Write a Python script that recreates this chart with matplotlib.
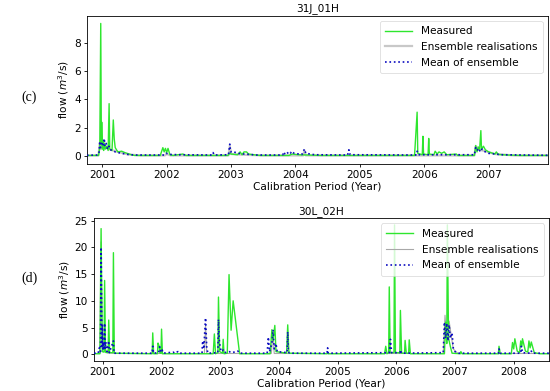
import matplotlib
matplotlib.use('Agg')
import matplotlib.pyplot as plt

# time axis is in decimal years
# ---- 31J_01H (panel c) ----
c_meas_x = [2000.76, 2000.94, 2000.96, 2000.975, 2000.985, 2000.99, 2001.0, 2001.01, 2001.02, 2001.03,
            2001.05, 2001.07, 2001.09, 2001.105, 2001.115, 2001.15, 2001.17, 2001.185, 2001.2, 2001.24,
            2001.3, 2001.35, 2001.45, 2001.5, 2001.9, 2001.94, 2001.96, 2001.98, 2002.0, 2002.02,
            2002.05, 2002.1, 2002.25, 2002.3, 2002.95, 2002.98, 2003.0, 2003.1, 2003.14, 2003.17,
            2003.2, 2003.24, 2003.27, 2003.35, 2003.45, 2003.9, 2003.95, 2004.05, 2004.2, 2004.4,
            2005.85, 2005.89, 2005.9, 2005.97, 2005.98, 2005.99, 2006.06, 2006.07, 2006.08, 2006.15,
            2006.17, 2006.2, 2006.23, 2006.27, 2006.31, 2006.35, 2006.5, 2006.52, 2006.78, 2006.8,
            2006.82, 2006.84, 2006.86, 2006.88, 2006.89, 2006.92, 2006.95, 2007.0, 2007.1, 2007.12,
            2007.15, 2007.3, 2007.5, 2007.94]
c_meas_y = [0.05, 0.05, 0.6, 9.35, 0.8, 2.4, 0.5, 1.1, 0.4, 0.9,
            0.5, 0.7, 0.4, 3.7, 0.5, 0.4, 2.55, 1.2, 0.6, 0.3,
            0.35, 0.25, 0.1, 0.05, 0.05, 0.6, 0.3, 0.55, 0.25, 0.55,
            0.1, 0.05, 0.15, 0.05, 0.05, 0.2, 0.15, 0.1, 0.3, 0.1,
            0.3, 0.3, 0.15, 0.1, 0.05, 0.05, 0.15, 0.1, 0.08, 0.05,
            0.05, 3.1, 0.2, 0.1, 1.4, 0.15, 0.1, 1.25, 0.15, 0.1,
            0.35, 0.15, 0.3, 0.2, 0.3, 0.1, 0.15, 0.05, 0.05, 0.75,
            0.3, 0.65, 0.4, 1.8, 0.5, 0.7, 0.45, 0.3, 0.15, 0.3,
            0.12, 0.08, 0.05, 0.05]

c_mean_x = [2000.76, 2000.93, 2000.95, 2000.96, 2000.97, 2000.99, 2001.01, 2001.03, 2001.04, 2001.06,
            2001.08, 2001.1, 2001.12, 2001.17, 2001.2, 2001.3, 2001.4, 2001.5, 2001.97, 2001.99,
            2002.05, 2002.2, 2002.7, 2002.72, 2002.74, 2002.96, 2002.98, 2002.99, 2003.02, 2003.1,
            2003.2, 2003.4, 2003.8, 2003.82, 2003.84, 2003.9, 2003.92, 2003.94, 2003.98, 2004.1,
            2004.14, 2004.16, 2004.3, 2004.81, 2004.83, 2004.85, 2005.87, 2005.89, 2005.91, 2006.06,
            2006.78, 2006.8, 2006.82, 2006.85, 2006.87, 2006.9, 2006.93, 2007.0, 2007.2, 2007.94]
c_mean_y = [0.06, 0.08, 0.3, 1.05, 0.6, 0.9, 0.7, 1.25, 0.7, 0.9,
            0.5, 0.7, 0.45, 0.4, 0.3, 0.2, 0.12, 0.08, 0.08, 0.2,
            0.12, 0.1, 0.08, 0.25, 0.08, 0.1, 0.85, 0.3, 0.35, 0.2,
            0.15, 0.08, 0.08, 0.3, 0.1, 0.3, 0.2, 0.35, 0.2, 0.12,
            0.5, 0.2, 0.1, 0.08, 0.45, 0.1, 0.08, 0.35, 0.1, 0.1,
            0.1, 0.6, 0.4, 0.55, 0.3, 0.5, 0.35, 0.2, 0.1, 0.06]

c_ens_x = [2000.76, 2000.94, 2000.96, 2000.98, 2001.02, 2001.06, 2001.1, 2001.2, 2001.4, 2001.6,
           2001.97, 2002.0, 2002.06, 2002.96, 2002.98, 2003.0, 2003.2, 2003.5, 2004.12, 2004.14,
           2004.16, 2006.78, 2006.8, 2006.86, 2006.95, 2007.1, 2007.4, 2007.94]
c_ens_y = [0.05, 0.05, 0.9, 0.5, 1.0, 0.6, 0.5, 0.35, 0.12, 0.05,
           0.05, 0.15, 0.05, 0.05, 0.7, 0.15, 0.1, 0.05, 0.05, 0.4,
           0.05, 0.05, 0.7, 0.45, 0.35, 0.15, 0.05, 0.05]

# ---- 30L_02H (panel d) ----
d_meas_x = [2000.85, 2000.95, 2000.97, 2000.99, 2001.02, 2001.03, 2001.045, 2001.09, 2001.1, 2001.115,
            2001.17, 2001.18, 2001.195, 2001.84, 2001.85, 2001.865, 2001.93, 2001.94, 2001.96, 2001.975,
            2001.99, 2002.0, 2002.015, 2002.88, 2002.9, 2002.92, 2002.96, 2002.97, 2002.99, 2003.04,
            2003.05, 2003.065, 2003.12, 2003.15, 2003.185, 2003.22, 2003.33, 2003.85, 2003.88, 2003.9,
            2003.93, 2003.95, 2004.13, 2004.15, 2004.17, 2004.82, 2004.83, 2004.84, 2005.8, 2005.82,
            2005.84, 2005.87, 2005.88, 2005.895, 2005.96, 2005.97, 2005.985, 2006.06, 2006.07, 2006.09,
            2006.14, 2006.15, 2006.17, 2006.21, 2006.22, 2006.24, 2006.82, 2006.84, 2006.86, 2006.87,
            2006.89, 2006.92, 2006.95, 2007.09, 2007.1, 2007.12, 2007.74, 2007.75, 2007.77, 2007.96,
            2007.98, 2008.0, 2008.02, 2008.06, 2008.1, 2008.12, 2008.14, 2008.15, 2008.2, 2008.24,
            2008.26, 2008.28, 2008.3, 2008.35, 2008.45, 2008.6]
d_meas_y = [0.1, 0.1, 23.5, 0.5, 0.4, 13.8, 0.4, 0.3, 6.4, 0.3,
            0.3, 19.0, 0.2, 0.1, 4.0, 0.1, 0.1, 2.1, 1.5, 0.2,
            0.2, 4.7, 0.1, 0.1, 3.8, 0.1, 0.3, 10.7, 0.5, 0.2,
            2.8, 0.1, 0.2, 14.9, 4.5, 10.0, 0.1, 0.1, 4.6, 2.5,
            5.4, 0.5, 0.2, 5.5, 0.2, 0.1, 0.3, 0.1, 0.1, 1.5,
            0.1, 0.3, 12.6, 0.3, 0.3, 24.2, 0.3, 0.3, 8.2, 0.2,
            0.2, 2.6, 0.2, 0.2, 2.7, 0.1, 0.1, 6.0, 2.0, 24.2,
            3.0, 1.5, 0.2, 0.1, 0.5, 0.1, 0.1, 1.5, 0.1, 0.1,
            2.2, 1.0, 2.9, 0.6, 0.3, 2.5, 1.5, 2.9, 0.6, 0.4,
            2.5, 1.2, 2.3, 0.3, 0.1, 0.1]

d_mean_x = [2000.85, 2000.92, 2000.94, 2000.96, 2000.97, 2000.985, 2000.99, 2001.0, 2001.01, 2001.02,
            2001.03, 2001.04, 2001.05, 2001.07, 2001.1, 2001.11, 2001.18, 2001.19, 2001.84, 2001.85,
            2001.86, 2001.95, 2001.97, 2001.99, 2002.01, 2002.03, 2002.2, 2002.22, 2002.28, 2002.3,
            2002.69, 2002.7, 2002.72, 2002.75, 2002.77, 2002.79, 2002.96, 2002.97, 2002.98, 2003.0,
            2003.02, 2003.05, 2003.07, 2003.15, 2003.2, 2003.3, 2003.33, 2003.8, 2003.82, 2003.84,
            2003.88, 2003.9, 2003.92, 2003.95, 2003.97, 2004.14, 2004.15, 2004.16, 2004.18, 2004.82,
            2004.83, 2004.84, 2005.88, 2005.9, 2005.92, 2006.06, 2006.07, 2006.09, 2006.8, 2006.82,
            2006.84, 2006.86, 2006.88, 2006.9, 2006.92, 2006.95, 2006.97, 2007.0, 2007.05, 2007.74,
            2007.75, 2007.77, 2008.12, 2008.13, 2008.15, 2008.29, 2008.3, 2008.32, 2008.6]
d_mean_y = [0.2, 0.2, 1.2, 0.5, 20.0, 1.5, 5.5, 1.0, 2.2, 0.8,
            5.8, 1.0, 2.3, 0.5, 2.5, 0.3, 2.5, 0.2, 0.2, 1.5,
            0.2, 0.3, 1.4, 0.4, 0.8, 0.2, 0.4, 0.2, 0.5, 0.2,
            0.2, 2.5, 1.0, 6.8, 1.2, 0.2, 0.3, 6.5, 3.0, 1.2,
            0.5, 0.8, 0.3, 0.5, 0.3, 0.6, 0.2, 0.2, 3.2, 0.5,
            2.0, 4.6, 1.0, 2.0, 0.5, 0.3, 4.2, 0.5, 0.2, 0.2,
            1.2, 0.2, 0.3, 2.8, 0.3, 0.3, 0.8, 0.2, 0.3, 6.0,
            3.0, 5.8, 2.5, 5.5, 3.0, 4.0, 1.2, 0.5, 0.2, 0.2,
            1.0, 0.2, 0.2, 1.5, 0.3, 0.2, 0.6, 0.2, 0.2]

d_ens_x = [2000.85, 2000.95, 2000.97, 2000.99, 2001.03, 2001.05, 2001.2, 2002.73, 2002.75, 2002.77,
           2003.87, 2003.9, 2003.92, 2006.8, 2006.83, 2006.85, 2006.9, 2006.97, 2007.05, 2008.6]
d_ens_y = [0.15, 0.15, 21.0, 1.0, 4.5, 0.3, 0.15, 0.15, 5.5, 0.15,
           0.15, 3.8, 0.15, 0.15, 7.3, 4.5, 6.2, 1.0, 0.15, 0.15]

panels = [
    ("31J_01H", "(c)", c_meas_x, c_meas_y, c_ens_x, c_ens_y, c_mean_x, c_mean_y,
     [0.158, 0.581, 0.838, 0.379], (2000.76, 2007.92), (-0.54, 9.9), [0, 2, 4, 6, 8],
     list(range(2001, 2008)), 0.752, '#c8c8c8', 1.6),
    ("30L_02H", "(d)", d_meas_x, d_meas_y, d_ens_x, d_ens_y, d_mean_x, d_mean_y,
     [0.171, 0.0775, 0.827, 0.3645], (2000.85, 2008.6), (-1.2, 25.45), [0, 5, 10, 15, 20, 25],
     list(range(2001, 2009)), 0.289, '#a8a8a8', 0.8),
]

fs = 7.6
fig = plt.figure(figsize=(5.5, 3.91), dpi=100)

for (title, tag, mx, my, ex, ey, avx, avy, rect, xl, yl, yt, xt, tag_y, ens_col, ens_lw) in panels:
    ax = fig.add_axes(rect)
    ax.plot(mx, my, color='#2ee62e', lw=1.0, label='Measured', zorder=2)
    ax.plot(ex, ey, color=ens_col, lw=ens_lw, label='Ensemble realisations', zorder=1)
    ax.plot(avx, avy, color='#0a0ac0', lw=1.2, ls=':', label='Mean of ensemble', zorder=3)
    ax.set_xlim(*xl)
    ax.set_ylim(*yl)
    ax.set_yticks(yt)
    ax.set_xticks(xt)
    ax.set_xticklabels([str(y) for y in xt])
    ax.tick_params(labelsize=fs, length=2.5, width=0.6, pad=2)
    for s in ax.spines.values():
        s.set_linewidth(0.6)
    ax.set_title(title, fontsize=fs, pad=3)
    ax.set_xlabel('Calibration Period (Year)', fontsize=fs, labelpad=1)
    ax.set_ylabel('flow ($m^3$/s)', fontsize=fs, labelpad=2)
    leg = ax.legend(loc='upper right', fontsize=fs, framealpha=0.8, handlelength=2.6,
                    borderpad=0.5, labelspacing=0.55)
    leg.get_frame().set_linewidth(0.5)
    fig.text(0.038, tag_y, tag, fontsize=10, family='Liberation Serif', va='center')

fig.savefig('out.png', dpi=100)
